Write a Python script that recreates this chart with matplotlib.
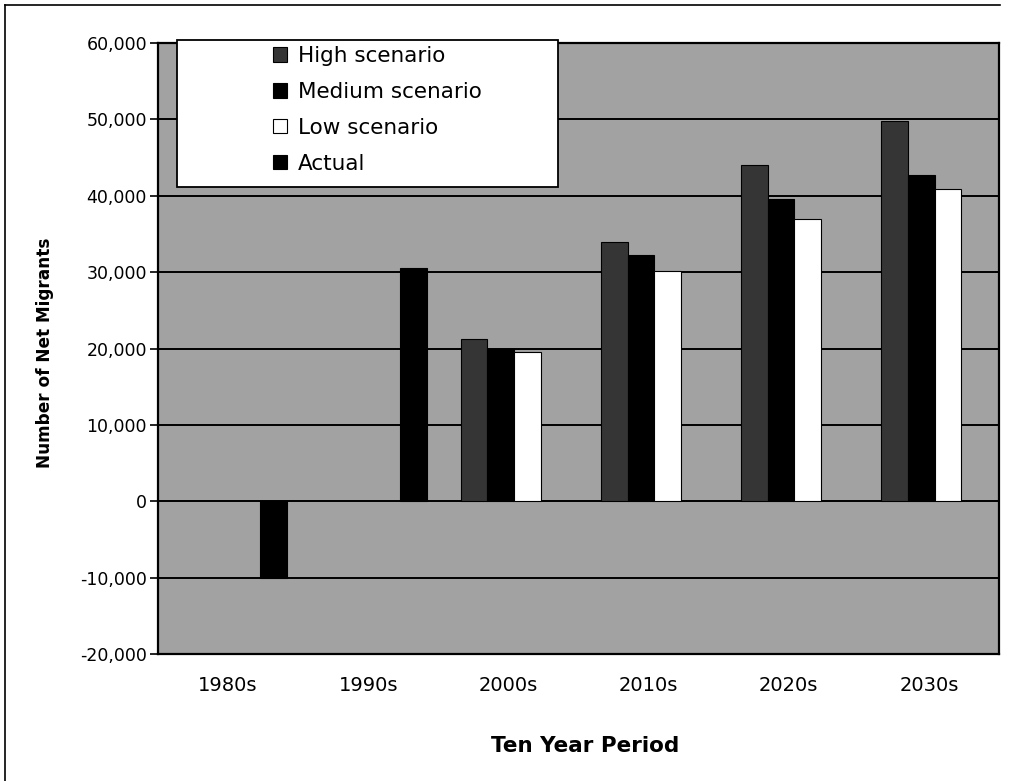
import matplotlib
matplotlib.use("Agg")
import matplotlib.pyplot as plt
import numpy as np
from matplotlib.lines import Line2D
from matplotlib.patches import Rectangle

plt.rcParams['font.family'] = ['DejaVu Sans']

periods = ["1980s", "1990s", "2000s", "2010s", "2020s", "2030s"]
high = [np.nan, np.nan, 21200, 34000, 44000, 49800]
medium = [np.nan, np.nan, 19900, 32300, 39600, 42700]
low = [np.nan, np.nan, 19600, 30100, 37000, 40900]
actual = [-10000, 30500, np.nan, np.nan, np.nan, np.nan]
yticks = [-20000, -10000, 0, 10000, 20000, 30000, 40000, 50000, 60000]

W, H = 1031, 781
L, R, T, B = 158, 999, 43, 654
fig = plt.figure(figsize=(W / 100, H / 100), dpi=100)
ax = fig.add_axes([L / W, 1 - B / H, (R - L) / W, (B - T) / H])
ax.set_facecolor('#a2a2a2')

x = np.arange(len(periods))
w = 0.19
shift = 0.04
series = [(high, '#353535', 'High scenario'),
          (medium, '#000000', 'Medium scenario'),
          (low, '#ffffff', 'Low scenario'),
          (actual, '#000000', 'Actual')]
for i, (vals, col, lab) in enumerate(series):
    ax.bar(x + (i - 1.5) * w + shift, vals, width=w, color=col,
           edgecolor='black', linewidth=0.8, label=lab, zorder=3)

ax.set_ylim(-20000, 60000)
ax.set_xlim(-0.5, len(periods) - 0.5)
ax.set_yticks(yticks)
ax.set_yticklabels([f"{v:,}" for v in yticks], fontsize=12.5)
ax.set_xticks(x)
ax.set_xticklabels(periods, fontsize=14)
ax.tick_params(axis='x', length=0, pad=16)
ax.tick_params(axis='y', length=6, width=1.2, direction='out', pad=2)
ax.grid(axis='y', color='black', linewidth=1.4, zorder=1)
ax.set_axisbelow(True)
for s in ax.spines.values():
    s.set_linewidth(1.6)

ax.set_ylabel("Number of Net Migrants", fontsize=12.2, fontweight='bold')
ax.yaxis.set_label_coords((54 - L) / (R - L), (B - 353) / (B - T))
fig.text(585 / W, 1 - 746 / H, "Ten Year Period",
         ha='center', va='center', fontsize=15.5, fontweight='bold')

# legend box
rect = Rectangle(((177 - L) / (R - L), (B - 187) / (B - T)),
                 (558 - 177) / (R - L), (187 - 40) / (B - T),
                 transform=ax.transAxes, facecolor='white', edgecolor='black',
                 linewidth=1.3, zorder=4, clip_on=False)
ax.add_patch(rect)
leg = ax.legend(loc='upper left',
                bbox_to_anchor=((273 - L) / (R - L), (B - 46) / (B - T)),
                fontsize=15.5, frameon=False,
                handlelength=0.65, handleheight=0.65, handletextpad=0.52,
                labelspacing=0.74, borderpad=0.0, borderaxespad=0)
leg.set_zorder(5)

# figure border lines (left and top)
fig.add_artist(Line2D([5 / W, 5 / W], [0, 1 - 5 / H], color='black', lw=1.2,
                      transform=fig.transFigure))
fig.add_artist(Line2D([5 / W, 1000 / W], [1 - 5 / H, 1 - 5 / H], color='black',
                      lw=1.2, transform=fig.transFigure))

fig.savefig("out.png", dpi=100)
